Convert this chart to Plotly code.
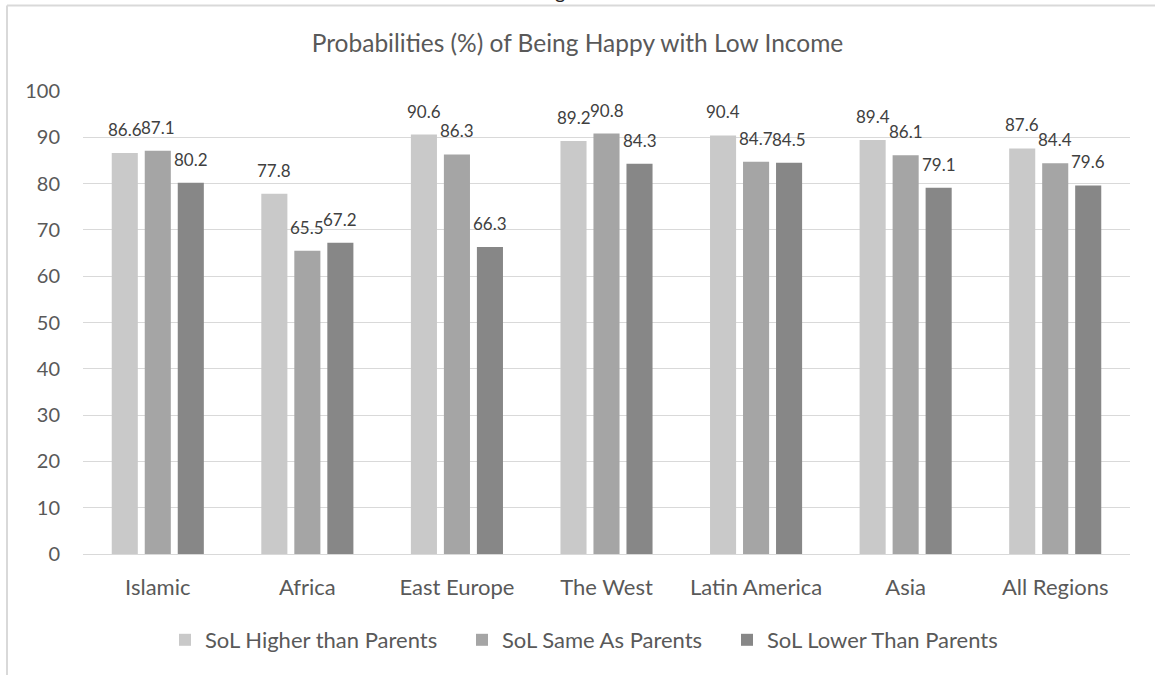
import plotly.graph_objects as go

categories = ["Islamic", "Africa", "East Europe", "The West", "Latin America", "Asia", "All Regions"]
higher = [86.6, 77.8, 90.6, 89.2, 90.4, 89.4, 87.6]
same = [87.1, 65.5, 86.3, 90.8, 84.7, 86.1, 84.4]
lower = [80.2, 67.2, 66.3, 84.3, 84.5, 79.1, 79.6]
series_names = ["SoL Higher than Parents", "SoL Same As Parents", "SoL Lower Than Parents"]
colors = ["#c9c9c9", "#a5a5a5", "#878787"]

FONT = "Lato"
W, H = 1155, 675
ML, MR, MT, MB = 83, 25, 91, 121
PW, PH = W - ML - MR, H - MT - MB


def px_x(px):
    return (px - ML) / PW


def px_y(py):
    return 1 - (py - MT) / PH


BAR_STEP = 33  # px between bar centres within a group
legend_names = ["legend", "legend2", "legend3"]
legend_x = [165, 462, 727]

fig = go.Figure()
for i, (name, vals, col) in enumerate(zip(series_names, [higher, same, lower], colors)):
    kw = {} if i == 0 else dict(legend=legend_names[i])
    fig.add_trace(go.Bar(
        x=categories, y=vals, name=name, marker=dict(color=col, line=dict(width=0)),
        showlegend=True, **kw,
    ))
    for cat, v in zip(categories, vals):
        fig.add_annotation(x=cat, y=v, xref="x", yref="y", text=f"{v:.1f}", showarrow=False,
                           xanchor="center", yanchor="bottom", xshift=(i - 1) * BAR_STEP, yshift=11,
                           font=dict(family=FONT, size=17, color="#404040"))

leg_common = dict(orientation="h", xref="container", xanchor="left", yref="container",
                  yanchor="middle", y=1 - 640 / H, itemwidth=30, bgcolor="rgba(0,0,0,0)",
                  font=dict(family=FONT, size=22, color="#595959"))

fig.update_layout(
    width=W, height=H,
    paper_bgcolor="white", plot_bgcolor="white",
    margin=dict(l=ML, r=MR, t=MT, b=MB),
    barmode="group", bargap=0.338, bargroupgap=0.21,
    showlegend=True,
    title=dict(text="Probabilities (%) of Being Happy with Low Income", x=0.5, xref="container",
               xanchor="center", y=1 - 43 / H, yref="container", yanchor="middle",
               font=dict(family=FONT, size=24.5, color="#595959")),
    font=dict(family=FONT, color="#595959"),
    legend=dict(x=legend_x[0] / W, **leg_common),
    legend2=dict(x=legend_x[1] / W, **leg_common),
    legend3=dict(x=legend_x[2] / W, **leg_common),
)
fig.update_yaxes(range=[0, 100], dtick=10, showgrid=True, gridcolor="#d9d9d9", gridwidth=1,
                 zeroline=False, showline=False, ticks="", ticklabelstandoff=22,
                 tickfont=dict(family=FONT, size=20, color="#595959"))
fig.update_xaxes(showline=True, linecolor="#d9d9d9", linewidth=1, ticks="",
                 tickfont=dict(family=FONT, size=22, color="#595959"), ticklabelstandoff=14)

# outer frame (left and top borders of the chart area)
fig.add_shape(type="line", xref="paper", yref="paper", x0=px_x(7), x1=px_x(7), y0=px_y(5.5), y1=px_y(680),
              line=dict(color="#d9d9d9", width=2))
fig.add_shape(type="line", xref="paper", yref="paper", x0=px_x(7), x1=px_x(1160), y0=px_y(5.5), y1=px_y(5.5),
              line=dict(color="#d9d9d9", width=2))

# descender of the cropped caption above the chart
fig.add_annotation(text="g", xref="paper", yref="paper", x=px_x(560), y=px_y(-9), showarrow=False,
                   xanchor="center", yanchor="middle", font=dict(family=FONT, size=20, color="#222222"))

fig.write_html("out.html")
